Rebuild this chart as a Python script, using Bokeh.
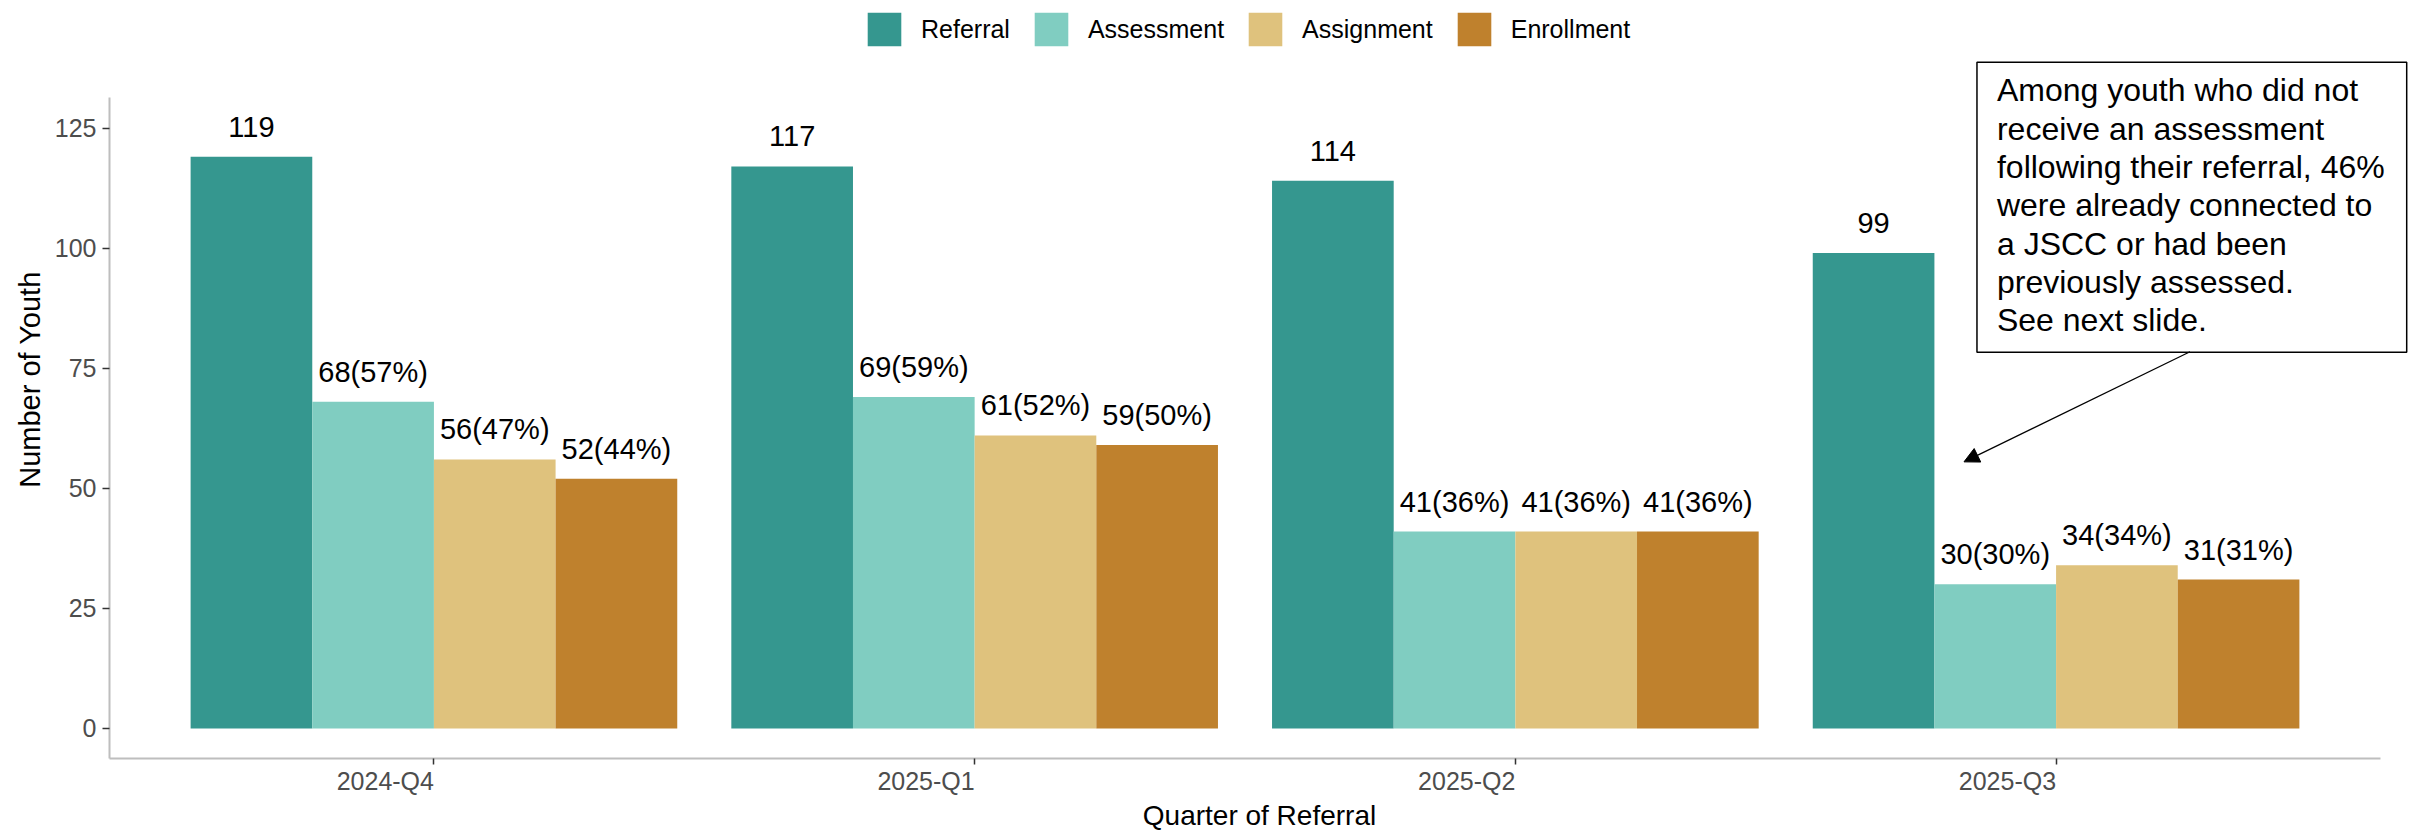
from bokeh.plotting import figure
from bokeh.models import (ColumnDataSource, FixedTicker, Legend, LegendItem, Label,
                          LabelSet, Arrow, NormalHead, Range1d, LinearAxis)
from bokeh.transform import dodge
from bokeh.embed import file_html
from bokeh.resources import INLINE
from bokeh.core.properties import value

# ---------------- data ----------------
quarters = ["2024-Q4", "2025-Q1", "2025-Q2", "2025-Q3"]
stages = ["Referral", "Assessment", "Assignment", "Enrollment"]
referral = [119, 117, 114, 99]
assessment = [68, 69, 41, 30]
assignment = [56, 61, 41, 34]
enrollment = [52, 59, 41, 31]
colors = ["#35978F", "#80CDC1", "#DFC27D", "#BF812D"]
y_ticks = [0, 25, 50, 75, 100, 125]

note_text = ("Among youth who did not\nreceive an assessment\nfollowing their referral, 46%\n"
             "were already connected to\na JSCC or had been\npreviously assessed.\nSee next slide.")

FONT = "Liberation Sans"

# ---------------- layout constants (screen) ----------------
W, H = 2409, 833
LEFT = 109                  # y-axis line position
FRAME_BOTTOM = 762          # x-axis line position
X_LO, X_HI = 0.4, 4.6       # panel extent (data)
Y_LO, Y_HI = -6.25, 131.25  # panel extent (data)
PX_X = 2271 / (X_HI - X_LO)
PX_Y = 664 / (Y_HI - Y_LO)

p = figure(width=W, height=H,
           x_range=Range1d(X_LO, X_LO + (W - LEFT) / PX_X),
           y_range=Range1d(Y_LO, Y_LO + FRAME_BOTTOM / PX_Y),
           output_backend="svg", toolbar_location=None,
           min_border_left=LEFT, min_border_right=0, min_border_top=0,
           min_border_bottom=H - FRAME_BOTTOM)
p.outline_line_color = None
p.xgrid.visible = False
p.ygrid.visible = False
p.background_fill_color = "white"
p.border_fill_color = "white"

xpos = list(range(1, len(quarters) + 1))
series = [referral, assessment, assignment, enrollment]
group_w = 0.9
bar_w = group_w / len(stages)

items = []
for i, (name, vals, col) in enumerate(zip(stages, series, colors)):
    off = -group_w / 2 + bar_w * (i + 0.5)
    if i == 0:
        labels = [str(v) for v in vals]
    else:
        labels = [f"{v}({round(v / r * 100)}%)" for v, r in zip(vals, referral)]
    src = ColumnDataSource(dict(xpos=xpos, top=vals, label=labels))
    r = p.vbar(x=dodge("xpos", off, range=p.x_range), top="top", bottom=0, width=bar_w,
               source=src, fill_color=col, line_color=None)
    items.append(LegendItem(label=name, renderers=[r]))
    p.add_layout(LabelSet(x=dodge("xpos", off, range=p.x_range), y="top", text="label",
                          source=src, text_align="center", text_baseline="alphabetic",
                          y_offset=20, text_font=value(FONT), text_font_size="29px",
                          text_color="black"))

# ---------------- axes ----------------
def style_axis(ax):
    ax.axis_line_color = "#BEBEBE"
    ax.axis_line_width = 2
    ax.major_tick_line_color = "#333333"
    ax.major_tick_line_width = 1.5
    ax.major_tick_in = 0
    ax.major_tick_out = 7
    ax.minor_tick_in = 0
    ax.minor_tick_out = 0
    ax.minor_tick_line_color = None

yax = p.yaxis[0]
style_axis(yax)
yax.bounds = (Y_LO, Y_HI)
yax.ticker = FixedTicker(ticks=y_ticks)
yax.major_label_text_font = FONT
yax.major_label_text_font_size = "25px"
yax.major_label_text_color = "#4D4D4D"
yax.major_label_standoff = 6
yax.axis_label = "Number of Youth"
yax.axis_label_text_font = FONT
yax.axis_label_text_font_size = "29px"
yax.axis_label_text_font_style = "normal"
yax.axis_label_text_color = "black"
yax.axis_label_standoff = 6

# axis 1: line + tick marks at the group centres
xax = p.xaxis[0]
style_axis(xax)
xax.bounds = (X_LO, X_HI)
xax.major_tick_out = 6
xax.ticker = FixedTicker(ticks=xpos)
xax.major_label_overrides = {k: "" for k in xpos}
xax.major_label_text_font_size = "0px"
xax.major_label_text_color = None
xax.major_label_standoff = 0

# axis 2: tick labels right-aligned on the ticks + axis title
half_label_px = 48.6
label_ticks = [k - half_label_px / PX_X for k in xpos]
xax2 = LinearAxis(ticker=FixedTicker(ticks=label_ticks),
                  major_label_overrides={t: q for t, q in zip(label_ticks, quarters)},
                  bounds=(X_LO, X_HI),
                  axis_line_color=None, major_tick_line_color=None, minor_tick_line_color=None,
                  major_tick_in=0, major_tick_out=0, minor_tick_in=0, minor_tick_out=0,
                  major_label_standoff=2,
                  major_label_text_font=FONT, major_label_text_font_size="25px",
                  major_label_text_color="#4D4D4D",
                  axis_label="Quarter of Referral", axis_label_standoff=2,
                  axis_label_text_font=FONT, axis_label_text_font_size="28px",
                  axis_label_text_font_style="normal", axis_label_text_color="black")
p.add_layout(xax2, "below")

# ---------------- legend ----------------
legend = Legend(items=items, orientation="horizontal", location=(754, 708),
                padding=0, margin=0, spacing=20, label_standoff=16,
                glyph_width=42, glyph_height=42,
                label_text_font=FONT, label_text_font_size="25px", label_text_color="black",
                border_line_color=None, background_fill_alpha=0)
p.add_layout(legend, "center")

# ---------------- annotation ----------------
p.add_layout(Label(x=3.8537, y=138.7, text=note_text, text_align="left", text_baseline="top",
                   text_font=FONT, text_font_size="32px", text_color="black",
                   text_line_height=1.065,
                   border_line_color="black", border_line_width=1.5,
                   background_fill_color="white",
                   padding=dict(left=20, right=22, top=10, bottom=14)))

p.add_layout(Arrow(x_start=4.2477, y_start=78.44, x_end=3.8297, y_end=55.5,
                   line_color="black", line_width=1.2,
                   end=NormalHead(size=15, fill_color="black", line_color="black", line_width=1)))

open("out.html", "w").write(file_html(p, INLINE))
